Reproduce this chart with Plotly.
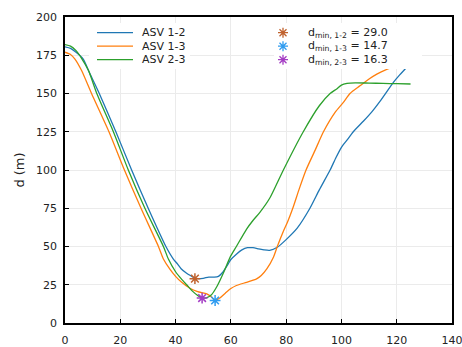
import plotly.graph_objects as go

# Pairwise distance between vessels over time
x_12 = [0, 2, 4, 6.6, 9, 12.4, 18.4, 24.1, 30.1, 36.5, 39.2, 40.4, 42, 44, 46, 47, 48, 50, 52, 54,
        55.5, 57, 59, 60, 62, 64, 66, 68, 70, 72, 74, 76.8, 80, 84, 88.6, 92, 95.9, 98, 100, 102,
        104.3, 108, 111, 114, 118.8, 121, 124.3]
d_12 = [180.5, 179.5, 177, 172.5, 163, 150, 125, 100, 75, 50, 41.8, 39.2, 35.5, 32.5, 30.3, 29.3, 29.0,
        29.2, 30.0, 30.0, 30.5, 33, 38.5, 41.5, 45, 47.8, 49.2, 49.2, 48.5, 47.8, 47.5, 49.5, 54.5,
        62, 75, 87, 100, 108, 114.8, 119.5, 125, 132, 138, 145, 157.3, 162, 168.5]

x_13 = [0, 2, 3.6, 6, 9.6, 15.9, 21.5, 27.5, 33.8, 35.6, 38, 40, 42, 45.2, 48, 51.3, 53, 54.3, 56,
        58, 60, 62, 65.7, 69.3, 71, 73, 75.4, 76.8, 79, 80.5, 82.4, 84.8, 87.2, 90.5, 93.5, 97.7,
        100.7, 103.1, 106.7, 110, 112.8, 116, 120.5]
d_13 = [177, 175.5, 172.5, 165, 150, 125, 100, 75, 50, 41.8, 35, 30.5, 27, 22.7, 20.5, 19, 17, 14.7,
        16.3, 19.5, 22.5, 24.5, 26.6, 28.8, 31, 35.3, 43, 50, 60, 66, 75, 88, 100, 113, 125, 137.7,
        144.2, 150, 155, 159.5, 162.7, 165.5, 168.3]

x_23 = [0, 2, 4, 6, 8.5, 11.5, 17.5, 22.9, 28.9, 35.6, 37.4, 40, 42, 44, 46, 48, 49.6, 51.3, 53,
        55, 57.5, 59.7, 62, 65.7, 68, 70.5, 74.2, 79, 86.2, 92, 95.9, 98.3, 100, 102, 105,
        110, 115, 120, 125]
d_23 = [182, 181, 178, 173, 165, 150, 125, 100, 75, 50, 41.8, 33.5, 29, 25, 21, 18, 16.3, 16.6, 18.5,
        24, 33.5, 42.9, 50, 61.4, 67, 72.3, 82, 100, 125, 142, 150, 153, 155.5, 156.6, 157,
        156.8, 156.6, 156.4, 156.2]

pair_names = ["ASV 1-2", "ASV 1-3", "ASV 2-3"]
pair_labels = ["1-2", "1-3", "2-3"]
line_colors = ["#1f77b4", "#ff7f0e", "#2ca02c"]

# Closest approach for each pair
dmin_t = [47.0, 54.3, 49.6]
dmin_d = [29.0, 14.7, 16.3]
dmin_colors = ["#c0622e", "#2f9cf0", "#a43cc4"]

x_ticks = [0, 20, 40, 60, 80, 100, 120, 140]
y_ticks = [0, 25, 50, 75, 100, 125, 150, 175, 200]

FONT = "DejaVu Sans"
W, H = 462, 347
ML, MR, MT, MB = 65, 10, 17, 24
PW, PH = W - ML - MR, H - MT - MB


def px(xp):
    return (xp - ML) / PW


def py(yp):
    return (H - MB - yp) / PH


fig = go.Figure()

for xs, ds, name, col in zip([x_12, x_13, x_23], [d_12, d_13, d_23], pair_names, line_colors):
    fig.add_trace(go.Scatter(x=xs, y=ds, mode="lines", name=name,
                             line=dict(color=col, width=1.3, shape="spline", smoothing=0.6),
                             showlegend=False))

for t, d, col in zip(dmin_t, dmin_d, dmin_colors):
    fig.add_trace(go.Scatter(x=[t], y=[d], mode="markers", showlegend=False,
                             marker=dict(symbol="asterisk-open", size=9, color=col,
                                         line=dict(color=col, width=1.5))))

# Legend panels: white backing boxes, sample glyphs and labels
shapes = [
    dict(type="rect", xref="paper", yref="paper", x0=px(89), x1=px(190), y0=py(69), y1=py(23),
         fillcolor="white", line=dict(width=0), layer="above"),
    dict(type="rect", xref="paper", yref="paper", x0=px(274), x1=px(422), y0=py(69), y1=py(23),
         fillcolor="white", line=dict(width=0), layer="above"),
]
annotations = []
row_y = [32.7, 46.2, 59.7]

for ry, name, col in zip(row_y, pair_names, line_colors):
    shapes.append(dict(type="line", xref="paper", yref="paper", x0=px(97), x1=px(133),
                       y0=py(ry), y1=py(ry), line=dict(color=col, width=1.3), layer="above"))
    annotations.append(dict(xref="paper", yref="paper", x=px(140), y=py(ry), text=name,
                            showarrow=False, xanchor="left", yanchor="middle",
                            font=dict(family=FONT, size=11, color="#222")))

star = "M-5,0 L5,0 M0,-5 L0,5 M-3.5,-3.5 L3.5,3.5 M-3.5,3.5 L3.5,-3.5"
for ry, lab, d, col in zip(row_y, pair_labels, dmin_d, dmin_colors):
    shapes.append(dict(type="path", xref="paper", yref="paper", xsizemode="pixel", ysizemode="pixel",
                       xanchor=px(283), yanchor=py(ry), path=star,
                       line=dict(color=col, width=1.3), layer="above"))
    annotations.append(dict(xref="paper", yref="paper", x=px(306), y=py(ry),
                            text=f"d<sub>min, {lab}</sub> = {d:.1f}",
                            showarrow=False, xanchor="left", yanchor="middle",
                            font=dict(family=FONT, size=11, color="#222")))

axis_common = dict(showline=True, linecolor="black", linewidth=1.5, mirror=True,
                   ticks="inside", ticklen=4, tickwidth=1, tickcolor="black",
                   showgrid=True, gridcolor="#ebebeb", gridwidth=1, zeroline=False,
                   automargin=False, ticklabeloverflow="allow",
                   tickfont=dict(family=FONT, size=11, color="#222"))

fig.update_layout(
    width=W, height=H,
    margin=dict(l=ML, r=MR, t=MT, b=MB),
    paper_bgcolor="white", plot_bgcolor="white",
    font=dict(family=FONT),
    xaxis=dict(range=[0, 140], tickvals=x_ticks, ticklabelstandoff=6, **axis_common),
    yaxis=dict(range=[0, 200], tickvals=y_ticks, ticklabelstandoff=4,
               title=dict(text="d (m)", font=dict(family=FONT, size=13, color="#222"), standoff=8),
               **axis_common),
    shapes=shapes,
    annotations=annotations,
)

fig.write_html(
    "out.html",
    config={"responsive": False},
    post_script="document.body.style.margin='0';document.body.style.overflow='hidden';",
)
